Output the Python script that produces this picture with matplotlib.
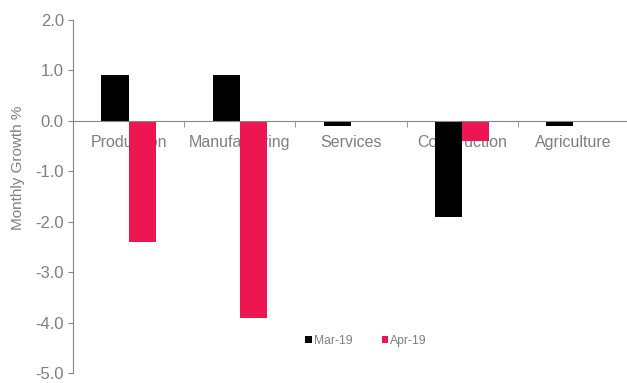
import matplotlib
matplotlib.use("Agg")
import matplotlib.pyplot as plt
import numpy as np

categories = ["Production", "Manufacturing", "Services", "Construction", "Agriculture"]
mar19 = [0.9, 0.9, -0.1, -1.9, -0.1]
apr19 = [-2.4, -3.9, 0.0, -0.4, 0.0]
series_names = ["Mar-19", "Apr-19"]
yticks = [2.0, 1.0, 0.0, -1.0, -2.0, -3.0, -4.0, -5.0]

plt.rcParams['font.family'] = ['Liberation Sans', 'DejaVu Sans']
gray = "#7F7F7F"
axc = "#868686"

fig = plt.figure(figsize=(6.27, 3.83), dpi=100)
ax = fig.add_axes([73/627, 1-373/383, 556/627, 353/383])

x = np.arange(len(categories))
w = 0.245
ax.bar(x - w/2, mar19, w, color="#000000", label=series_names[0], zorder=2)
ax.bar(x + w/2, apr19, w, color="#EE1651", label=series_names[1], zorder=2)

ax.set_xlim(-0.5, len(categories) - 0.5)
ax.set_ylim(-5.0, 2.0)
ax.set_yticks(yticks)
ax.set_yticklabels([f"{v:.1f}" for v in yticks])
ax.set_axisbelow(True)

for s in ["top", "right"]:
    ax.spines[s].set_visible(False)
ax.spines["bottom"].set_position(("data", 0))
ax.spines["bottom"].set_color(axc)
ax.spines["left"].set_color(axc)

ax.set_xticks(x)
ax.set_xticklabels(categories)
ax.set_xticks(np.arange(0.5, len(categories) - 0.5, 1.0), minor=True)
ax.tick_params(axis="x", which="major", length=0, pad=10.5, labelsize=11.5, labelcolor=gray)
ax.tick_params(axis="x", which="minor", length=4, direction="out", color=axc)
ax.tick_params(axis="y", length=3.6, color=axc, labelsize=12, labelcolor=gray, pad=3)

ax.set_ylabel("Monthly Growth %", color=gray, fontsize=11)
ax.yaxis.set_label_coords(-0.086, 0.58)

leg = fig.legend(loc="center", bbox_to_anchor=(366/627, 1-341/383), ncol=2, frameon=False,
                 fontsize=8.7, handlelength=0.55, handleheight=0.55, handletextpad=0.15,
                 columnspacing=2.4, labelcolor=gray)

fig.savefig("out.png", dpi=100)
